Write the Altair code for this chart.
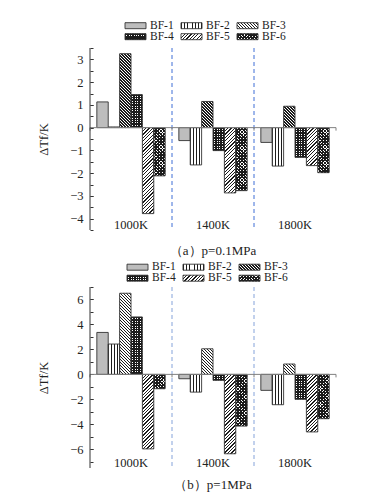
import math
import altair as alt

# ---------------- data ----------------
groups = ["1000K", "1400K", "1800K"]
series = ["BF-1", "BF-2", "BF-3", "BF-4", "BF-5", "BF-6"]

# (a) p = 0.1 MPa, values in series order
a_1000K = [1.13, 0.03, 3.25, 1.45, -3.78, -2.12]
a_1400K = [-0.57, -1.64, 1.15, -1.01, -2.87, -2.77]
a_1800K = [-0.65, -1.69, 0.94, -1.31, -1.67, -1.98]

# (b) p = 1 MPa
b_1000K = [3.36, 2.43, 6.50, 4.60, -5.97, -1.15]
b_1400K = [-0.35, -1.42, 2.05, -0.48, -6.36, -4.14]
b_1800K = [-1.28, -2.43, 0.83, -2.00, -4.61, -3.55]

a_major = [-4, -3, -2, -1, 0, 1, 2, 3]
a_minor = [x / 2 for x in range(-9, 8)]
b_major = [-6, -4, -2, 0, 2, 4, 6]
b_minor = list(range(-7, 8))
a_domain = [-4.5, 3.5]
b_domain = [-7.5, 7.0]

# ---------------- styles ----------------
FONT = "Liberation Serif"
PLOT_W = 246
BAR_W = PLOT_W / 3 / 7.2
SW_W, SW_H = 21, 6
TRANSP = "rgba(0,0,0,0)"
INK = "#1c1c1c"

# (kind, period px, line fraction, line colour, background colour)
PATTERNS = {
    "BF-1": [("solid", 0, 0, "#bdbdbd", "#bdbdbd"), None],
    "BF-2": [("v", 2.85, 0.32, INK, "#ffffff"), None],
    "BF-3": [("back", 3.0, 0.5, INK, "#ffffff"), None],
    "BF-4": [("v", 2.4, 0.6, INK, "#ffffff"), ("h", 2.4, 0.6, INK, TRANSP)],
    "BF-5": [("fwd", 3.4, 0.38, INK, "#ffffff"), None],
    "BF-6": [("fwd", 3.2, 0.55, INK, "#ffffff"), ("back", 3.2, 0.55, INK, TRANSP)],
}


def stripe_stops(n, lf, c_line, c_bg):
    n = max(n, 1.0)
    stops = []
    k = 0
    while k < n:
        s0 = round(k / n, 5)
        s1 = round(min((k + lf) / n, 1.0), 5)
        s2 = round(min((k + 1) / n, 1.0), 5)
        stops += [{"offset": s0, "color": c_line}, {"offset": s1, "color": c_line},
                  {"offset": s1, "color": c_bg}, {"offset": s2, "color": c_bg}]
        k += 1
    return stops


def make_fill(pat, w, h):
    if pat is None:
        return TRANSP
    kind, per, lf, c_line, c_bg = pat
    if kind == "solid":
        return c_bg
    h = max(h, 0.5)
    if kind == "v":
        g = {"x1": 0, "y1": 0, "x2": 1, "y2": 0}
        n = w / per
    elif kind == "h":
        g = {"x1": 0, "y1": 0, "x2": 0, "y2": 1}
        n = h / per
    else:
        k = (w + h) / (w * w + h * h)
        if kind == "fwd":
            g = {"x1": 0, "y1": 0, "x2": k * w, "y2": k * h}
        else:
            g = {"x1": 0, "y1": 1, "x2": k * w, "y2": 1 - k * h}
        n = (w + h) / per
    g["gradient"] = "linear"
    g["stops"] = stripe_stops(n, lf, c_line, c_bg)
    return g


def panel(vals, dom, major, minor, height, title, t_off, leg_x0, leg_r, dash_col):
    ppu = height / (dom[1] - dom[0])
    rows = []
    for g, vs in zip(groups, vals):
        for s, v in zip(series, vs):
            h = abs(v) * ppu
            p1, p2 = PATTERNS[s]
            rows.append({"group": g, "series": s, "value": v,
                         "g1": make_fill(p1, BAR_W, h), "g2": make_fill(p2, BAR_W, h)})
    bars_data = alt.Data(values=rows)
    bound_data = alt.Data(values=[{"group": g} for g in groups])

    leg_rows = []
    for i, s in enumerate(series):
        p1, p2 = PATTERNS[s]
        leg_rows.append({"series": s, "col": i % 3, "row": i // 3,
                         "g1": make_fill(p1, SW_W, SW_H), "g2": make_fill(p2, SW_W, SW_H)})
    leg_data = alt.Data(values=leg_rows)

    x_main = alt.X("group:N", scale=alt.Scale(paddingInner=0, paddingOuter=0),
                   axis=alt.Axis(orient="bottom", ticks=False, tickSize=0, domain=False,
                                 labelPadding=-12, labelAngle=0, labelFontSize=12.5,
                                 labelFont=FONT, title=None))
    xoff = alt.XOffset("series:N", scale=alt.Scale(paddingInner=0, paddingOuter=0.6))
    y_main = alt.Y("value:Q", scale=alt.Scale(domain=dom, nice=False, zero=False),
                   axis=alt.Axis(orient="left", values=major, format="d", labelOverlap=False,
                                 offset=-3, tickSize=3, domain=False, grid=False,
                                 labelPadding=7, labelFontSize=12.5, labelFont=FONT,
                                 labelColor="#222222",
                                 title="ΔTf/K", titleFontSize=12.5, titleFontWeight="normal",
                                 titleFont=FONT, titlePadding=19))
    minor_axis = alt.Axis(orient="left", values=minor, labels=False, offset=-3, tickSize=3,
                          domain=False, grid=False, title=None)

    base = alt.Chart(bars_data).mark_bar(strokeWidth=0).encode(
        x=x_main, xOffset=xoff, y=y_main, y2=alt.Y2Datum(0),
        fill=alt.Fill("g1:N", scale=None))
    over = alt.Chart(bars_data).mark_bar(stroke="#333333", strokeWidth=0.9).encode(
        x=alt.X("group:N"), xOffset=alt.XOffset("series:N"),
        y=alt.Y("value:Q", axis=None), y2=alt.Y2Datum(0),
        fill=alt.Fill("g2:N", scale=None))

    dashed = alt.Chart(bound_data).transform_filter("datum.group != '1000K'").mark_rule(
        color=dash_col, strokeDash=[4, 3], strokeWidth=1
    ).encode(x=alt.X("group:N", bandPosition=0))

    zero = alt.Chart(alt.Data(values=[{"z": 0}])).mark_rule(color="#808080", strokeWidth=1).encode(
        y=alt.YDatum(0, axis=minor_axis))
    zticks = alt.Chart(bound_data).mark_rule(color="#808080", strokeWidth=1, y2Offset=3).encode(
        x=alt.X("group:N", bandPosition=0), y=alt.YDatum(0, axis=None), y2=alt.Y2Datum(0))
    zend = alt.Chart(bound_data).transform_filter(f"datum.group == '{groups[-1]}'").mark_rule(
        color="#808080", strokeWidth=1, y2Offset=3).encode(
        x=alt.X("group:N", bandPosition=1), y=alt.YDatum(0, axis=None), y2=alt.Y2Datum(0))
    yline = alt.Chart(alt.Data(values=[{"z": 0}])).mark_rule(color="#333333", strokeWidth=1).encode(
        x=alt.value(0), y=alt.value(0), y2=alt.value(height))

    leg_base = alt.Chart(leg_data).transform_calculate(
        lx=f"{leg_x0} + 56 * datum.col",
        ly=f"datum.row == 0 ? {leg_r[0]} : {leg_r[1]}",
    ).transform_calculate(
        lx2=f"datum.lx + {SW_W}", ly1=f"datum.ly - {SW_H / 2}", ly2=f"datum.ly + {SW_H / 2}",
        tx=f"datum.lx + {SW_W + 4}")
    leg1 = leg_base.mark_rect(strokeWidth=0).encode(
        x=alt.X("lx:Q", scale=None, axis=None), x2="lx2:Q",
        y=alt.Y("ly1:Q", scale=None, axis=None), y2="ly2:Q",
        fill=alt.Fill("g1:N", scale=None))
    leg2 = leg_base.mark_rect(stroke="#333333", strokeWidth=0.9).encode(
        x=alt.X("lx:Q", scale=None, axis=None), x2="lx2:Q",
        y=alt.Y("ly1:Q", scale=None, axis=None), y2="ly2:Q",
        fill=alt.Fill("g2:N", scale=None))
    legt = leg_base.mark_text(align="left", baseline="middle", font=FONT, fontSize=11.5,
                              color="#222222").encode(
        x=alt.X("tx:Q", scale=None, axis=None), y=alt.Y("ly:Q", scale=None, axis=None),
        text="series:N")

    return alt.layer(base, over, dashed, zero, zticks, zend, yline, leg1, leg2, legt).resolve_axis(
        y="independent"
    ).properties(
        width=PLOT_W, height=height,
        title=alt.TitleParams(title, orient="bottom", offset=t_off, font=FONT, fontSize=13,
                              fontWeight="normal", color="#222222"))


pa = panel([a_1000K, a_1400K, a_1800K], a_domain, a_major, a_minor, 182, "（a）p=0.1MPa", 14,
           35, (-22.3, -11.3), "#3f6fd6")
pb = panel([b_1000K, b_1400K, b_1800K], b_domain, b_major, b_minor, 181, "（b）p=1MPa", 10,
           37, (-19.8, -8.8), "#85a3da")

chart = alt.vconcat(pa, pb, spacing=3).properties(
    padding={"left": 29, "top": 11, "right": 0, "bottom": 0}
).configure_view(stroke=None).configure_axis(
    labelColor="#222222", titleColor="#222222",
    domainColor="#333333", tickColor="#333333")

chart.save("out.html", embed_options={"renderer": "svg", "actions": False})
